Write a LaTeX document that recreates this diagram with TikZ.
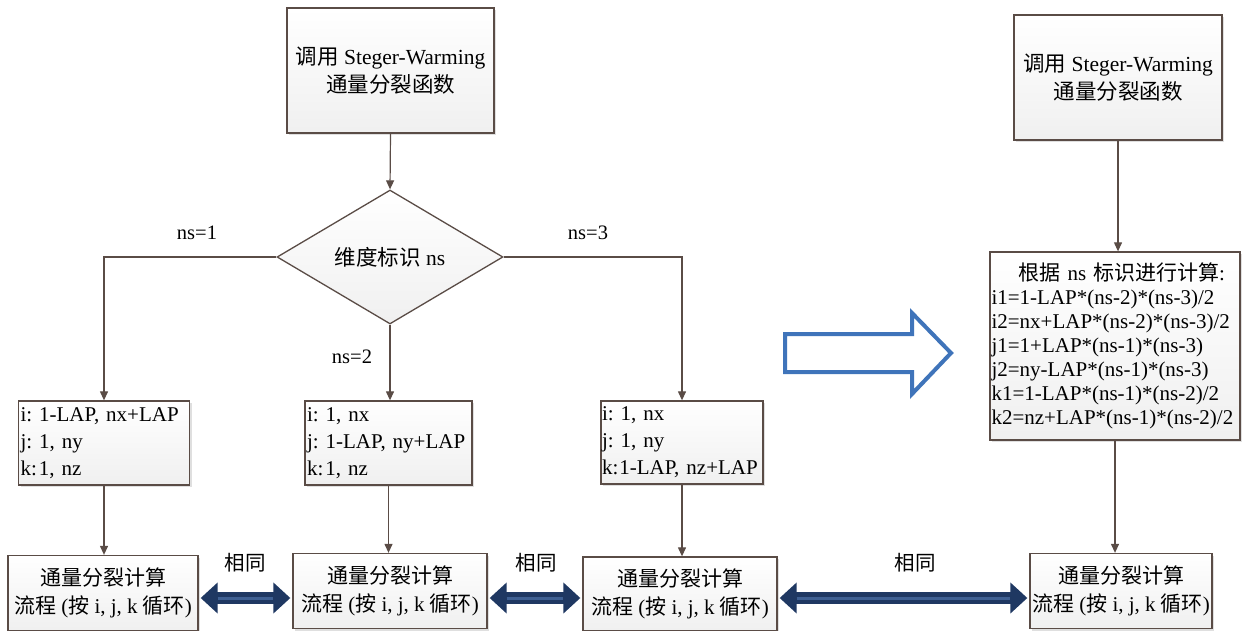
\documentclass[tikz,border=0pt]{standalone}
\usepackage{fontspec}
\setmainfont{Liberation Serif}
\newfontfamily\cjk{Noto Sans CJK SC}
\newcommand\zh[1]{{\cjk #1}}
\usetikzlibrary{shapes.geometric,arrows.meta,shadows}
\definecolor{boxc}{HTML}{5A4C46}
\definecolor{navy}{HTML}{1F3862}
\definecolor{stripe}{HTML}{3E5F92}
\definecolor{hollow}{HTML}{3F74BA}
\frenchspacing
\begin{document}
\begin{tikzpicture}[x=1pt,y=-1pt,
  box/.style={draw=boxc, line width=1.3pt, top color=white, bottom color=gray!12,
    drop shadow={shadow xshift=2pt, shadow yshift=-2pt, opacity=0.25},
    inner sep=0pt, align=center, font=\fontsize{21}{28}\selectfont},
  lbox/.style={box, align=left, font=\fontsize{21}{27}\selectfont},
  conn/.style={draw=boxc, line width=1.2pt, -{Triangle[length=9pt,width=8pt]}},
  lab/.style={font=\fontsize{20.5}{24}\selectfont, inner sep=0pt},
  dbl/.style={draw=navy, line width=12pt, {Triangle[length=17pt,width=30pt]}-{Triangle[length=17pt,width=30pt]}, shorten <=2pt, shorten >=2pt},
  strp/.style={draw=stripe, line width=3pt, shorten <=19pt, shorten >=19pt}
]
\useasboundingbox (0,0) rectangle (1247,631);

% left flowchart
\node[box, minimum width=207pt, minimum height=125pt, font=\fontsize{21.5}{28}\selectfont] (top) at (390.5,70.5)
  {\zh{调用} Steger-Warming\\\zh{通量分裂函数}};
\node[draw=boxc, line width=1.3pt, shape=diamond, top color=white, bottom color=gray!12,
  minimum width=226pt, minimum height=134pt, inner sep=0pt, shape aspect=1.69,
  font=\fontsize{21.5}{26}\selectfont] (dia) at (390,257) {\zh{维度标识} ns};

\node[lbox, minimum width=171pt, minimum height=84pt, text width=167pt] (L) at (104,443)
  {i: 1-LAP, nx+LAP\\j: 1, ny\\k:\kern2pt1, nz};
\node[lbox, minimum width=167pt, minimum height=84pt, text width=163pt] (M) at (388.5,443)
  {i: 1, nx\\j: 1-LAP, ny+LAP\\k:\kern2pt1, nz};
\node[lbox, minimum width=162pt, minimum height=83pt, text width=160pt] (R) at (682,442.5)
  {i: 1, nx\\j: 1, ny\\\mbox{k:\kern1pt1-LAP, nz+LAP}};

\node[box, minimum width=190pt, minimum height=75pt] (B1) at (103,593)
  {\zh{通量分裂计算}\\\zh{流程} (\zh{按} i, j, k \zh{循环})};
\node[box, minimum width=194pt, minimum height=75pt] (B2) at (390,591)
  {\zh{通量分裂计算}\\\zh{流程} (\zh{按} i, j, k \zh{循环})};
\node[box, minimum width=194pt, minimum height=74pt] (B3) at (680,594)
  {\zh{通量分裂计算}\\\zh{流程} (\zh{按} i, j, k \zh{循环})};
\node[box, minimum width=182pt, minimum height=75pt] (B4) at (1121,591)
  {\zh{通量分裂计算}\\\zh{流程} (\zh{按} i, j, k \zh{循环})};

% right flowchart
\node[box, minimum width=208pt, minimum height=125pt, font=\fontsize{21.5}{28}\selectfont] (T2) at (1118,77.5)
  {\zh{调用} Steger-Warming\\\zh{通量分裂函数}};
\node[lbox, minimum width=250pt, minimum height=188pt, text width=247pt,
  font=\fontsize{21}{24}\selectfont] (big) at (1115,346)
  {\hspace*{27pt}\zh{根据} ns \zh{标识进行计算}:\\
   i1=1-LAP*(ns-2)*(ns-3)/2\\
   i2=nx+LAP*(ns-2)*(ns-3)/2\\
   j1=1+LAP*(ns-1)*(ns-3)\\
   j2=ny-LAP*(ns-1)*(ns-3)\\
   k1=1-LAP*(ns-1)*(ns-2)/2\\
   k2=nz+LAP*(ns-1)*(ns-2)/2};

% connectors
\draw[conn] (top.south) -- (dia.north);
\draw[conn] (dia.west) -| (L.north);
\draw[conn] (dia.south) -- (dia.south |- M.north);
\draw[conn] (dia.east) -| (R.north);
\draw[conn] (L.south) -- (L.south |- B1.north);
\draw[conn] (M.south) -- (M.south |- B2.north);
\draw[conn] (R.south) -- (R.south |- B3.north);
\draw[conn] (T2.south) -- (T2.south |- big.north);
\draw[conn] (big.south) -- (big.south |- B4.north);

% labels
\node[lab] (l1) at (197,233) {ns=1};
\node[lab] (l3) at (588,233) {ns=3};
\node[lab] (l2) at (352,357) {ns=2};

% double arrows
\coordinate (a1) at (B1.east |- 0,598);
\coordinate (a2) at (B2.west |- 0,598);
\coordinate (a3) at (B2.east |- 0,598);
\coordinate (a4) at (B3.west |- 0,598);
\coordinate (a5) at (B3.east |- 0,598);
\coordinate (a6) at (B4.west |- 0,598);
\draw[dbl] (a1) -- (a2);
\draw[strp] (a1) -- (a2);
\draw[dbl] (a3) -- (a4);
\draw[strp] (a3) -- (a4);
\draw[dbl] (a5) -- (a6);
\draw[strp] (a5) -- (a6);
\node[lab] (s1) at (245,563) {\zh{相同}};
\node[lab] (s2) at (536,563) {\zh{相同}};
\node[lab] (s3) at (915,563) {\zh{相同}};

% hollow arrow
\draw[hollow, line width=4pt, line join=miter, fill=white]
  (785,334) -- (912,334) -- (912,313) -- (951,353) -- (912,394) -- (912,372) -- (785,372) -- cycle;
\end{tikzpicture}
\end{document}
